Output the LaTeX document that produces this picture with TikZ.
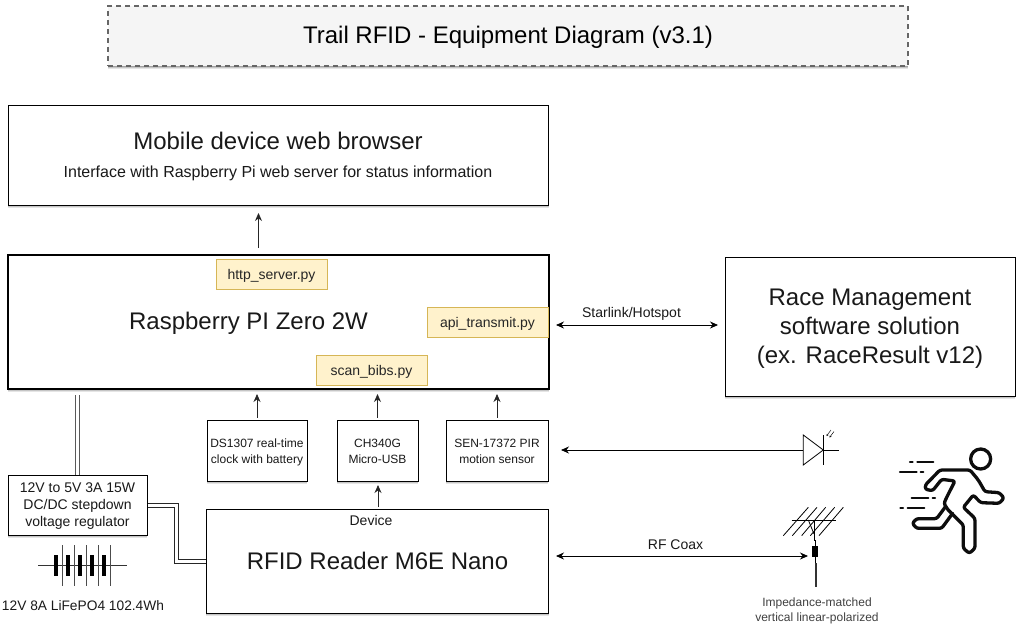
\documentclass[tikz,border=0pt]{standalone}
\usepackage{fontspec}
\setmainfont{Liberation Sans}
\usetikzlibrary{shadows,arrows.meta}
\newcommand{\fs}[1]{\fontsize{#1pt}{\dimexpr #1pt*12/10\relax}\selectfont}
\definecolor{yellowfill}{HTML}{FFF2CC}
\definecolor{yellowedge}{HTML}{D6B656}
\tikzset{
  softshadow/.style={
    general shadow={shadow xshift=0pt,shadow yshift=-3pt,opacity=.10,fill=black},
    general shadow={shadow xshift=0pt,shadow yshift=-2pt,opacity=.14,fill=black},
    general shadow={shadow xshift=0pt,shadow yshift=-1pt,opacity=.18,fill=black}},
  boxbase/.style={draw=black,fill=white,line width=.9pt,align=center,inner sep=0pt,text=black!90},
  box/.style={boxbase,softshadow},
  boxtext/.style={inner sep=0pt,align=center,text=black!90},
  script/.style={draw=yellowedge,fill=yellowfill,line width=.8pt,inner sep=0pt,minimum width=111pt,minimum height=30pt,font=\fs{14},text=black!85,text height=11pt,text depth=0pt},
  arr/.style={-{Stealth[length=8pt,width=7pt]},line width=.8pt,black!85,shorten >=4pt,shorten <=2pt},
  arrboth/.style={{Stealth[length=8pt,width=7pt]}-{Stealth[length=8pt,width=7pt]},line width=.8pt,black},
  rail/.style={double=white,double distance=3.5pt,line width=.9pt,draw=black!85},
  lab/.style={inner sep=0pt,text=black!90},
  runnerline/.style={line width=3.3pt,black!95,rounded corners=2.2pt}
}
\begin{document}
\begin{tikzpicture}[x=1pt,y=-1pt]
\useasboundingbox (0,0) rectangle (1022,638);
% title
\node[softshadow,draw=black!60,fill=black!4,dashed,dash pattern=on 5pt off 4pt,line width=1.2pt,minimum width=800pt,minimum height=60pt,inner sep=0pt,font=\fs{24},text height=15pt,text depth=0pt] (title) at (508,36) {Trail RFID - Equipment Diagram (v3.1)};
% main boxes
\node[box,minimum width=540.5pt,minimum height=100pt] (web) at (278.5,155) {};
\node[lab,font=\fs{24}] (webt) at (278,141) {Mobile device web browser};
\node[lab,font=\fs{16}] (webs) at (278,173.5) {Interface with Raspberry Pi web server for status information};
\node[box,line width=2pt,minimum width=540.5pt,minimum height=134pt,font=\fs{24},text height=15pt,text depth=0pt] (pi) at (278.5,322) {\hspace*{-60pt}Raspberry PI Zero 2W};
\node[script] (http) at (271.5,274) {http\_server.py};
\node[script,minimum width=121pt] (api) at (487.5,322) {api\_transmit.py};
\node[script] (scan) at (371.5,370) {scan\_bibs.py};
\node[box,minimum width=290pt,minimum height=139pt,label={[boxtext,font=\fs{24},yshift=-2.5pt]center:Race Management\\software solution\\(ex. RaceResult v12)}] (race) at (870,326.5) {};
\node[box,minimum width=100pt,minimum height=61pt,label={[boxtext,font=\fs{12},yshift=-2pt]center:DS1307 real-time\\[1pt]clock with battery}] (ds) at (257,450.5) {};
\node[box,minimum width=81pt,minimum height=61pt,label={[boxtext,font=\fs{12},yshift=-.8pt]center:CH340G\\[1pt]Micro-USB}] (ch) at (377.5,450.5) {};
\node[box,minimum width=102pt,minimum height=61pt,label={[boxtext,font=\fs{12},yshift=-.8pt]center:SEN-17372 PIR\\[1pt]motion sensor}] (sen) at (497,450.5) {};
\node[box,minimum width=139pt,minimum height=60pt,label={[boxtext,font=\fs{14},yshift=-1pt]center:12V to 5V 3A 15W\\DC/DC stepdown\\voltage regulator}] (reg) at (77.5,505) {};
\node[box,minimum width=342.5pt,minimum height=104pt,font=\fs{24}] (rfid) at (377.5,561) {RFID Reader M6E Nano};
\node[lab,font=\fs{14}] (dev) at (371,520) {Device};
% labels
\node[lab,font=\fs{13.75}] (batt) at (83,606) {12V 8A LiFePO4 102.4Wh};
\node[lab,font=\fs{14}] (star) at (631.5,314) {Starlink/Hotspot};
\node[lab,font=\fs{14}] (coax) at (675.5,545) {RF Coax};
\node[lab,font=\fs{12},align=center,text=black!75] (ant) at (817,610.5) {Impedance-matched\\[.5pt]vertical linear-polarized};
% vertical arrows
\coordinate (webtop) at (258.5,250);
\draw[arr] (webtop) -- (258.5,209);
\draw[arr] (ds.north) -- (ds.north |- pi.south);
\draw[arr] (ch.north) -- (ch.north |- pi.south);
\draw[arr] (sen.north) -- (sen.north |- pi.south);
\draw[arr] (378,509) -- (378,481);
% double rails
\draw[rail,draw=black!65] (reg.north) -- (77.5,395);
\coordinate (railA) at (147.5,505.3);
\coordinate (railB) at (176.5,505.3);
\coordinate (railC) at (176.5,561.3);
\coordinate (railD) at (206,561.3);
\draw[rail] (railA) -- (railB) -- (railC) -- (railD);
% diode
\coordinate (dtip) at (823.3,450);
\coordinate (dback) at (803.3,450);
\draw[line width=.8pt] (803.3,435) -- (803.3,465) -- (dtip) -- cycle;
\draw[line width=.8pt] (823.3,435) -- (823.3,465);
\draw[line width=.8pt] (dtip) -- (838.7,450);
\draw[line width=.45pt,-{Stealth[length=2pt,width=2pt]}] (831,430) -- (826.5,436);
\draw[line width=.45pt,-{Stealth[length=2pt,width=2pt]}] (834,431.5) -- (829.5,437.5);
\coordinate (senport) at (561,450);
\draw[-{Stealth[length=8pt,width=7pt]},line width=.8pt,black] (dback) -- (senport);
% battery
\draw[line width=.7pt,black!80] (38,565) -- (127,565);
\foreach \x in {62,74,86,98,110} \draw[black,line width=3.4pt] (\x-6,555) -- (\x-6,576);
\foreach \x in {62,74,86,98,110} \draw[black!70,line width=.9pt] (\x,545) -- (\x,586);
% antenna
\begin{scope}[shift={(740,420)},x=.3333pt,y=-.3333pt]
  \draw[line width=.8pt] (155,300) -- (288,300);
  \foreach \a/\b in {130/205,157/231,185/257,211/284,237/310} \draw[line width=.8pt] (\a,347) -- (\b,262);
  \draw[line width=.8pt] (222,300) -- (222,362);
  \draw[line width=.8pt] (205,300) -- (222,342);
  \fill[black] (216,378) rectangle (235,412);
  \draw[line width=1.2pt] (226,360) -- (226,430);
  \draw[line width=1.3pt,black!80] (228,430) -- (228,502);
\end{scope}
\coordinate (antport) at (808,556);
\coordinate (rfidport) at (556,556);
\draw[arrboth] (rfidport) -- (antport);
\coordinate (piport) at (556,325);
\coordinate (raceport) at (718,325);
\draw[arrboth] (piport) -- (raceport);
% runner
\begin{scope}[shift={(740,420)},x=.3333pt,y=-.3333pt,line join=round,line cap=round]
  \draw[line width=3.3pt,black!95] (722,117) circle[radius=10pt];
  \draw[runnerline]
    (600,150) -- (690,150) -- (715,180) -- (735,215) -- (778,218) -- (792,234) -- (778,250) -- (722,248) -- (700,225) -- (670,262) -- (705,295) -- (705,385) -- (688,400) -- (670,385) -- (670,315) -- (620,265) -- (612,250) -- (620,232) -- (645,183) -- (605,178) -- (578,212) -- (556,208) -- (556,195) -- cycle;
  \draw[runnerline]
    (638,280) -- (605,325) -- (530,325) -- (517,310) -- (530,296) -- (590,296) -- (618,258);
  \draw[line width=2.2pt,black!95]
    (510,127) -- (518,127) (532,127) -- (580,127)
    (480,155) -- (530,155) (542,155) -- (550,155)
    (515,235) -- (565,235) (578,235) -- (585,235)
    (481,265) -- (489,265) (503,265) -- (553,265);
\end{scope}
\end{tikzpicture}
\end{document}
